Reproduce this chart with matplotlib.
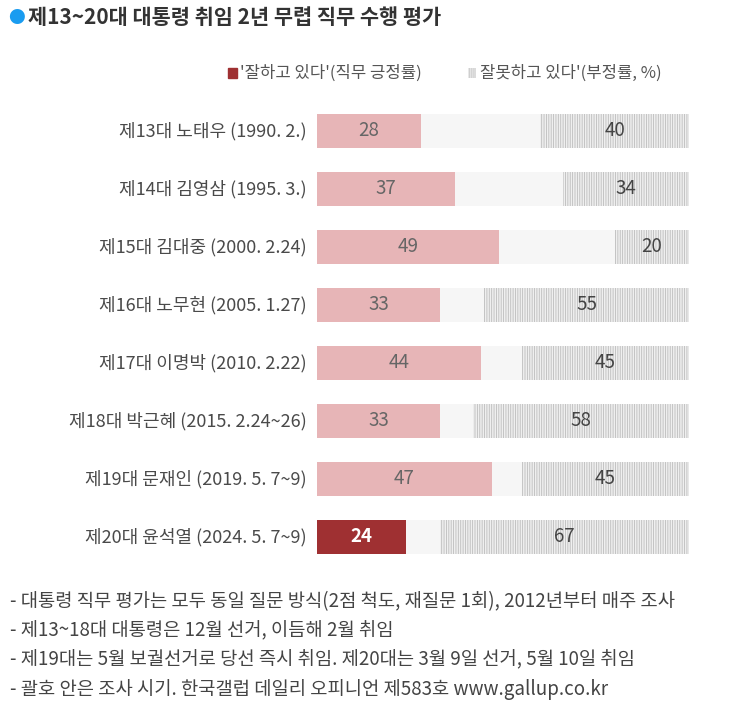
import matplotlib.pyplot as plt
from matplotlib.patches import Rectangle

plt.rcParams['font.family'] = ['Noto Sans CJK KR', 'DejaVu Sans']

labels = ['제13대 노태우 (1990. 2.)', '제14대 김영삼 (1995. 3.)', '제15대 김대중 (2000. 2.24)',
          '제16대 노무현 (2005. 1.27)', '제17대 이명박 (2010. 2.22)', '제18대 박근혜 (2015. 2.24~26)',
          '제19대 문재인 (2019. 5. 7~9)', '제20대 윤석열 (2024. 5. 7~9)']
positive = [28, 37, 49, 33, 44, 33, 47, 24]
negative = [40, 34, 20, 55, 45, 58, 45, 67]
notes = ['- 대통령 직무 평가는 모두 동일 질문 방식(2점 척도, 재질문 1회), 2012년부터 매주 조사',
         '- 제13~18대 대통령은 12월 선거, 이듬해 2월 취임',
         '- 제19대는 5월 보궐선거로 당선 즉시 취임. 제20대는 3월 9일 선거, 5월 10일 취임',
         '- 괄호 안은 조사 시기. 한국갤럽 데일리 오피니언 제583호 www.gallup.co.kr']

plt.rcParams['hatch.linewidth'] = 0.6
plt.rcParams['hatch.color'] = '#bcbcbc'

fig = plt.figure(figsize=(7.45, 7.24), dpi=100)
ax = fig.add_axes([317 / 745, 1 - 566 / 724, 372 / 745, 464 / 724])

n = len(labels)
ys = list(range(n))
h = 0.59
pink = '#e7b5b7'
dark = '#9f3032'

ax.barh(ys, [100] * n, height=h, color='#f6f6f6', linewidth=0)
colors = [pink] * (n - 1) + [dark]
ax.barh(ys, positive, height=h, color=colors, linewidth=0)
left = [100 - v for v in negative]
ax.barh(ys, negative, left=left, height=h, color='#efefef', edgecolor='#bcbcbc',
        hatch='|||||||', linewidth=0)

for i in range(n):
    last = i == n - 1
    ax.text(positive[i] / 2, i, str(positive[i]), ha='center', va='center', fontsize=13.5,
            color='white' if last else '#666666', fontweight='bold' if last else 'normal')
    ax.text(left[i] + negative[i] / 2, i, str(negative[i]), ha='center', va='center',
            fontsize=13.5, color='#444444')
    ax.text(-2.7, i, labels[i], ha='right', va='center', fontsize=13, color='#4a4a4a')

ax.set_xlim(0, 100)
ax.set_ylim(n - 0.5, -0.5)
ax.axis('off')

# title
fig.text(8 / 745, 1 - 18 / 724, '●', color='#1a9cf0', fontsize=12, va='center', ha='left')
fig.text(28 / 745, 1 - 18 / 724, '제13~20대 대통령 취임 2년 무렵 직무 수행 평가', fontsize=15,
         fontweight='bold', color='#333333', va='center', ha='left')

# legend
fig.patches.append(Rectangle((228 / 745, 1 - 78 / 724), 9 / 745, 10 / 724, color=dark,
                             transform=fig.transFigure, figure=fig))
fig.text(240 / 745, 1 - 73 / 724, "'잘하고 있다'(직무 긍정률)", fontsize=12, color='#555555',
         va='center', ha='left')
fig.patches.append(Rectangle((468 / 745, 1 - 78 / 724), 8 / 745, 10 / 724, facecolor='#efefef',
                             edgecolor='#bcbcbc', hatch='||||||||', linewidth=0,
                             transform=fig.transFigure, figure=fig))
fig.text(480 / 745, 1 - 73 / 724, "잘못하고 있다'(부정률, %)", fontsize=12, color='#555555',
         va='center', ha='left')

for k, t in enumerate(notes):
    fig.text(10 / 745, 1 - (602 + 29 * k) / 724, t, fontsize=13.5, color='#444444',
             va='center', ha='left')

fig.savefig('out.png', dpi=100, facecolor='white')
